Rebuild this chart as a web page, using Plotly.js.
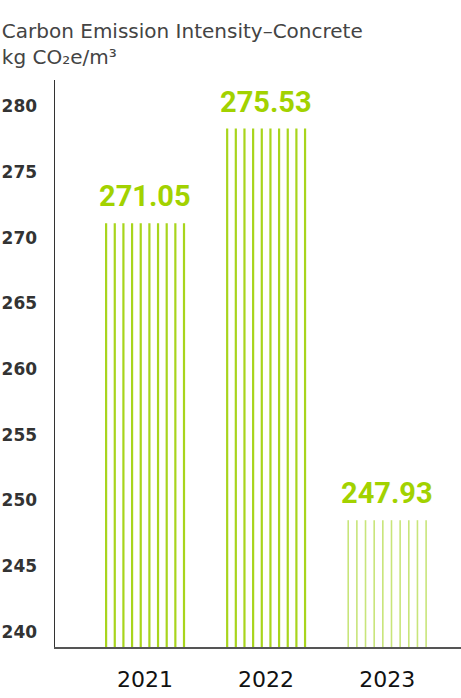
<!DOCTYPE html>
<html><head><meta charset="utf-8">
<script src="https://cdn.plot.ly/plotly-3.0.1.min.js"></script>
<style>html,body{margin:0;padding:0;background:#fff}#chart{width:461px;height:698px}</style>
</head><body><div id="chart"></div>
<script>
// Data
const years = ["2021", "2022", "2023"];
const valueLabels = [271.05, 275.53, 247.93];     // printed values
const barHeights = [271.1, 278.3, 248.5];         // drawn bar tops as seen in picture
const yTicks = [240, 245, 250, 255, 260, 265, 270, 275, 280];
const barColors = ["#a8d51c", "#a8d51c", "#c8e57a"];
const lineWidths = [2.2, 2.2, 1.6];

const yBase = 238.85;
const nLines = 10;
const step = 0.0715;

const traces = years.map((yr, i) => {
  const xs = [], ys = [];
  for (let k = 0; k < nLines; k++) {
    const xv = i + (k - (nLines - 1) / 2) * step;
    xs.push(xv, xv, null);
    ys.push(yBase, barHeights[i], null);
  }
  return {
    type: "scatter", mode: "lines", x: xs, y: ys,
    line: {color: barColors[i], width: lineWidths[i]},
    hoverinfo: "skip", showlegend: false, cliponaxis: false
  };
});

const annotations = years.map((yr, i) => ({
  x: i, y: barHeights[i], xref: "x", yref: "y",
  text: valueLabels[i].toFixed(2), showarrow: false,
  yanchor: "bottom", xanchor: "center", yshift: 8,
  font: {family: "Roboto, sans-serif", size: 29, color: "#a2d200", weight: 700}
}));

const layout = {
  width: 461, height: 698,
  margin: {l: 55, r: 0, t: 80, b: 51, pad: 0},
  paper_bgcolor: "#fff", plot_bgcolor: "#fff",
  title: {
    text: "Carbon Emission Intensity–Concrete<br>kg CO₂e/m³",
    x: 0.004, xref: "container", xanchor: "left",
    y: 0.946, yref: "container", yanchor: "top",
    font: {family: "DejaVu Sans, sans-serif", size: 20, color: "#444"}
  },
  xaxis: {
    range: [-0.744, 2.61], showgrid: false, zeroline: false,
    tickvals: [0, 1, 2], ticktext: years, ticks: "",
    showline: true, linecolor: "#555", linewidth: 1.5,
    tickfont: {family: "DejaVu Sans, sans-serif", size: 22, color: "#111"},
    ticklabelstandoff: 12
  },
  yaxis: {
    range: [yBase, 282], showgrid: false, zeroline: false,
    tickvals: yTicks, ticks: "",
    showline: true, linecolor: "#333", linewidth: 1.5,
    tickfont: {family: "DejaVu Sans, sans-serif", size: 17, color: "#333", weight: 700},
    ticklabelstandoff: 13
  },
  annotations: annotations,
  showlegend: false
};

Plotly.newPlot("chart", traces, layout, {staticPlot: true, displayModeBar: false});
</script></body></html>
